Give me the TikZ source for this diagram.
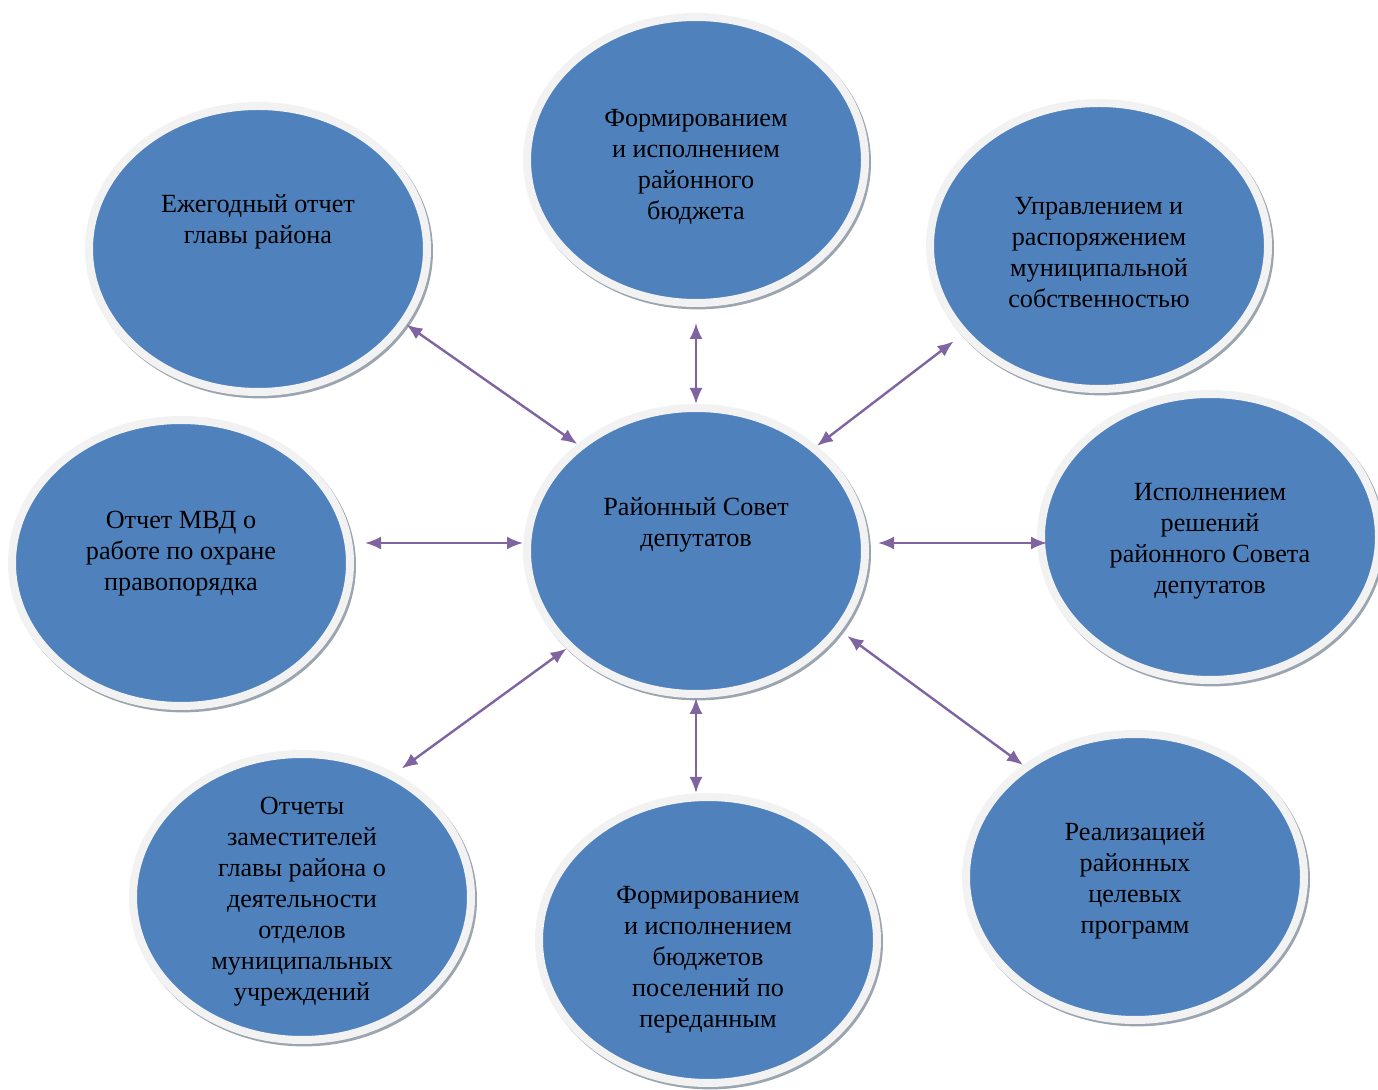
\documentclass[tikz,border=0pt]{standalone}
\usepackage{fontspec}
\setmainfont{Liberation Serif}
\usetikzlibrary{shapes.geometric,arrows.meta,calc}
\definecolor{bubblefill}{HTML}{4F81BD}
\definecolor{ringcol}{HTML}{F2F2F2}
\definecolor{ringshade}{HTML}{9BA5B0}
\definecolor{linkcol}{HTML}{8064A2}
\tikzset{
  bubble/.style={ellipse,fill=bubblefill,draw=ringcol,line width=4pt,inner sep=0pt,
    minimum width=169pt,minimum height=143pt,
    preaction={draw=ringshade,line width=4pt,transform canvas={shift={(1pt,-1.2pt)}}}},
  txt/.style={align=center,text=black,font=\fontsize{13.1pt}{15.5pt}\selectfont},
  link/.style={draw=linkcol,line width=1.2pt,{Latex[length=8pt,width=6.5pt]}-{Latex[length=8pt,width=6.5pt]}}
}
\begin{document}
\begin{tikzpicture}[x=0.5pt,y=-0.5pt]
\useasboundingbox (0,0) rectangle (1378,1090);
\node[bubble] (sovet) at (696,551) {};
\node[bubble] (budget) at (696,160) {};
\node[bubble] (ezh) at (258,249) {};
\node[bubble] (upr) at (1099,246) {};
\node[bubble] (mvd) at (181,563) {};
\node[bubble] (isp) at (1210,537) {};
\node[bubble] (otch) at (302,897) {};
\node[bubble] (budg2) at (708,940) {};
\node[bubble] (real) at (1135,877) {};

\node[txt] (sovet-t) at ($(sovet)+(0,-26)$) {Районный Совет\\депутатов};
\node[txt] (budget-t) at ($(budget)+(0,7)$) {Формированием\\и исполнением\\районного\\бюджета};
\node[txt] (ezh-t) at ($(ezh)+(0,-27)$) {Ежегодный отчет\\главы района};
\node[txt] (upr-t) at ($(upr)+(0,7)$) {Управлением и\\распоряжением\\муниципальной\\собственностью};
\node[txt] (mvd-t) at ($(mvd)+(0,-9)$) {Отчет МВД о\\работе по охране\\правопорядка};
\node[txt] (isp-t) at ($(isp)+(0,4)$) {Исполнением\\решений\\районного Совета\\депутатов};
\node[txt] (otch-t) at ($(otch)+(0,5)$) {Отчеты\\заместителей\\главы района о\\деятельности\\отделов\\муниципальных\\учреждений};
\node[txt] (budg2-t) at ($(budg2)+(0,20)$) {Формированием\\и исполнением\\бюджетов\\поселений по\\переданным};
\node[txt] (real-t) at ($(real)+(0,4)$) {Реализацией\\районных\\целевых\\программ};

\draw[link] (sovet.138) -- (ezh.-27);
\draw[link,shorten >=8pt] (sovet.north) -- (budget.south);
\draw[link,shorten >=5pt] (sovet.41) -- (upr.-147);
\draw[link,shorten >=5.5pt] ([yshift=4pt]sovet.west) -- ([yshift=4pt]sovet.west -| mvd.east);
\draw[link,shorten <=4.5pt,shorten >=-5pt] ([yshift=4pt]sovet.east) -- ([yshift=4pt]sovet.east -| isp.west);
\draw[link,shorten >=4pt] (sovet.-143) -- (otch.53);
\draw[link] (sovet.south) -- (sovet.south |- budg2.north);
\draw[link,shorten <=4pt] (sovet.-29) -- (real.135);
\end{tikzpicture}
\end{document}
